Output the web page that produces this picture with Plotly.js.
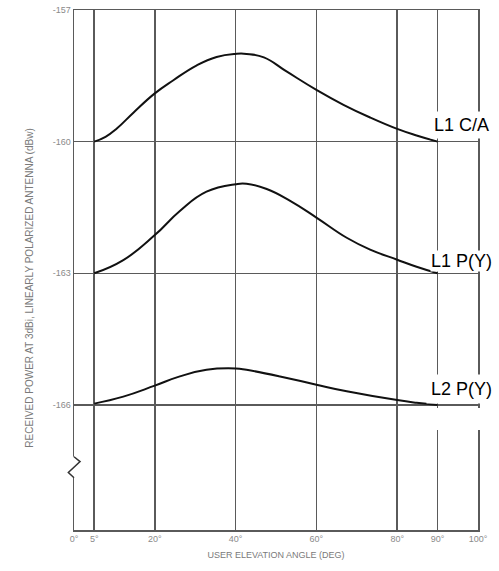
<!DOCTYPE html>
<html>
<head>
<meta charset="utf-8">
<script src="https://cdn.plot.ly/plotly-3.0.1.min.js"></script>
<style>
  html, body { margin: 0; padding: 0; background: #ffffff; }
  #chart { width: 499px; height: 571px; }
</style>
</head>
<body>
<div id="chart"></div>
<script>
// Received signal power versus user elevation angle, per GPS signal
const caElev   = [5, 7.8, 10.6, 14.7, 20, 24.6, 30.4, 35.3, 40, 42.7, 47, 52.6, 60, 66.7, 73.3, 80, 84.8, 90];
const caPower  = [-160, -159.89, -159.70, -159.34, -158.90, -158.60, -158.26, -158.07, -158.00, -158.00, -158.08, -158.40, -158.82, -159.16, -159.45, -159.71, -159.86, -160];

const l1pElev  = [5, 12.2, 20, 26.2, 32.8, 40, 42.7, 47.7, 53.5, 60, 67.5, 73.3, 80, 84.8, 90];
const l1pPower = [-163, -162.70, -162.13, -161.58, -161.14, -160.97, -160.96, -161.08, -161.35, -161.73, -162.19, -162.46, -162.69, -162.85, -163];

const l2pElev  = [5, 12.2, 20, 26.2, 32.8, 40, 42.7, 51, 60, 67.5, 80, 84.8, 90];
const l2pPower = [-165.97, -165.81, -165.56, -165.35, -165.20, -165.17, -165.20, -165.35, -165.54, -165.69, -165.89, -165.95, -166];

const seriesNames = ['L1 C/A', 'L1 P(Y)', 'L2 P(Y)'];

const xTickVals = [0, 5, 20, 40, 60, 80, 90, 100];
const xTickText = ['0°', '5°', '20°', '40°', '60°', '80°', '90°', '100°'];
const yTickVals = [-157, -160, -163, -166];
const yTickText = ['-157', '-160', '-163', '-166'];

const xTitle = 'USER ELEVATION ANGLE (DEG)';
const yTitle = 'RECEIVED POWER AT 3dBi, LINEARLY POLARIZED ANTENNA (dBw)';

const xRange = [0, 100];
const yRange = [-168.85, -157];

// helpers for decorations placed in paper units
const px = v => (v - xRange[0]) / (xRange[1] - xRange[0]);
const py = v => (v - yRange[0]) / (yRange[1] - yRange[0]);

const gridColor = '#5a5a5a';
const font = 'Arial, "Liberation Sans", sans-serif';

function curve(x, y, name) {
  return {
    x: x, y: y, name: name, type: 'scatter', mode: 'lines',
    line: { color: '#111111', width: 2, shape: 'spline', smoothing: 1.3 },
    hoverinfo: 'skip', showlegend: false
  };
}

const data = [
  curve(caElev, caPower, seriesNames[0]),
  curve(l1pElev, l1pPower, seriesNames[1]),
  curve(l2pElev, l2pPower, seriesNames[2])
];

// axis break marker on the left edge
const brk = { top: -167.18, bottom: -167.66 };
const zigzag = 'M ' + px(0) + ' ' + py(-167.18) +
               ' L ' + px(1.5) + ' ' + py(-167.29) +
               ' L ' + px(-1.4) + ' ' + py(-167.54) +
               ' L ' + px(0) + ' ' + py(-167.66);

const shapes = [
  { type: 'rect', xref: 'paper', yref: 'paper', layer: 'above',
    x0: px(-0.6), x1: px(0.6), y0: py(brk.bottom), y1: py(brk.top),
    fillcolor: '#ffffff', line: { width: 0 } },
  { type: 'path', xref: 'paper', yref: 'paper', layer: 'above',
    path: zigzag, line: { color: '#333333', width: 1.5 } },
  // blank patch under the L2 P(Y) label
  { type: 'rect', xref: 'paper', yref: 'paper', layer: 'above',
    x0: px(88.6), x1: px(100.8), y0: py(-166.57), y1: py(-166.07),
    fillcolor: '#ffffff', line: { width: 0 } }
];

function label(text, x, y, pad) {
  return {
    text: text, x: x, y: y, xref: 'x', yref: 'y',
    xanchor: 'center', yanchor: 'middle', showarrow: false,
    font: { family: font, size: 18, color: '#000000' },
    bgcolor: '#ffffff', borderpad: pad
  };
}

const layout = {
  width: 499, height: 571,
  margin: { l: 74, r: 21, t: 10, b: 41 },
  paper_bgcolor: '#ffffff', plot_bgcolor: '#ffffff',
  showlegend: false, hovermode: false,
  xaxis: {
    range: xRange, tickmode: 'array', tickvals: xTickVals, ticktext: xTickText,
    showgrid: true, gridcolor: gridColor, gridwidth: 1.5,
    showline: true, mirror: true, linecolor: gridColor, linewidth: 1.5,
    zeroline: false, ticks: '', fixedrange: true,
    tickfont: { family: font, size: 9, color: '#8a8a8a' },
    title: { text: xTitle, standoff: 8,
             font: { family: font, size: 9, color: '#7a7a7a' } }
  },
  yaxis: {
    range: yRange, tickmode: 'array', tickvals: yTickVals, ticktext: yTickText,
    showgrid: true, gridcolor: gridColor, gridwidth: 1.5,
    showline: true, mirror: true, linecolor: gridColor, linewidth: 1.5,
    zeroline: false, ticks: '', fixedrange: true,
    tickfont: { family: font, size: 9, color: '#8a8a8a' }
  },
  shapes: shapes,
  annotations: [
    label(seriesNames[0], 95.9, -159.62, 3),
    label(seriesNames[1], 95.8, -162.71, 0),
    label(seriesNames[2], 95.8, -165.64, 4),
    // vertical axis title, set slightly below the plot centre
    { text: yTitle, xref: 'paper', yref: 'paper', x: -0.109, y: 0.466,
      xanchor: 'center', yanchor: 'middle', textangle: -90, showarrow: false,
      font: { family: font, size: 10, color: '#7a7a7a' } }
  ]
};

Plotly.newPlot('chart', data, layout, { displayModeBar: false, staticPlot: true });
</script>
</body>
</html>
